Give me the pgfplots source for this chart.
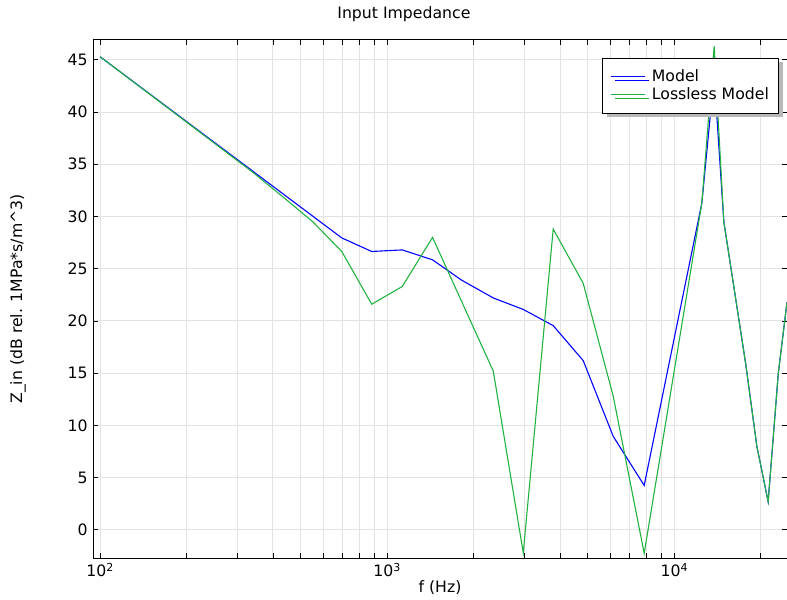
\documentclass[border=0pt]{standalone}
\usepackage{fontspec}
\setmainfont{DejaVu Sans}
\usepackage{pgfplots}
\pgfplotsset{compat=1.18}
\usetikzlibrary{shadows}
\definecolor{cblue}{rgb}{0,0,1}
\definecolor{cgreen}{rgb}{0.13,0.70,0.25}
\definecolor{gridgray}{gray}{0.89}
\definecolor{shadowgray}{gray}{0.72}
\begin{document}
\fontsize{15.7bp}{18bp}\selectfont
\begin{tikzpicture}
\begin{axis}[
  at={(0,0)}, anchor=south west,
  scale only axis, width=694bp, height=518bp,
  xmode=log, xmin=94.5, xmax=24700, ymin=-2.7, ymax=46.9,
  xtick={100,1000,10000},
  xticklabels={10\textsuperscript{2},10\textsuperscript{3},10\textsuperscript{4}},
  minor xtick={200,300,400,500,600,700,800,900,2000,3000,4000,5000,6000,7000,8000,9000,20000},
  ytick={0,5,10,15,20,25,30,35,40,45},
  /pgf/number format/assume math mode=true,
  tick align=inside, tick pos=both,
  major tick length=5bp, minor tick length=5bp,
  every tick/.style={black, line width=0.8bp},
  grid=both,
  major grid style={gridgray, line width=1bp},
  minor grid style={gridgray, line width=1bp},
  axis line style={black, line width=1bp},
  title={Input Impedance},
  title style={at={(axis description cs:0.448,1)}, anchor=center, yshift=20bp},
  xlabel={f (Hz)},
  xlabel style={at={(axis description cs:0.5,0)}, anchor=center, yshift=-30bp},
  ylabel={Z\_in (dB rel. 1MPa*s/m\textasciicircum 3)},
  ylabel style={at={(axis description cs:0,0.5)}, anchor=center, yshift=75bp},
  legend style={at={(axis description cs:0.989,0.9653)}, anchor=north east,
    draw=black, line width=1bp, fill=white,
    drop shadow={shadow xshift=4bp, shadow yshift=-4bp, fill=shadowgray, opacity=1},
    inner xsep=8bp, inner ysep=9bp, row sep=0bp, column sep=4bp,
    nodes={inner sep=2bp}},
  legend cell align=left,
  legend image code/.code={\draw[#1] (0bp,0bp) -- (34bp,0bp);},
]
\addplot[cblue, line width=1.1bp] coordinates {
(100,45.3) (694.8,27.95) (883.6,26.65) (1129,26.8) (1439,25.85) (1818,23.9)
(2342,22.2) (2979,21.1) (3788,19.55) (4818,16.2) (6129,8.95) (7858,4.25)
(12477,31.3) (13771,43.5) (14882,29.5) (17755,15.8) (19394,8.0) (21232,2.7)
(23036,15.0) (24700,21.8)
};
\addlegendentry{Model}
\addplot[cgreen, line width=1.1bp] coordinates {
(100,45.3) (338,34.3) (428,32.0) (550.6,29.5) (694.8,26.65) (883.6,21.6)
(1129,23.3) (1439,28.0) (1818,21.85) (2342,15.2) (2979,-2.2) (3788,28.8)
(4818,23.6) (6129,12.8) (7858,-2.25) (12477,31.3) (13771,46.3) (14882,29.5)
(17755,15.8) (19394,8.0) (21232,2.7) (23036,15.0) (24700,21.8)
};
\addlegendentry{Lossless Model}
\end{axis}
\pgfresetboundingbox
\path[use as bounding box] (-93bp,-42bp) rectangle (694bp,558bp);
\end{tikzpicture}
\end{document}
